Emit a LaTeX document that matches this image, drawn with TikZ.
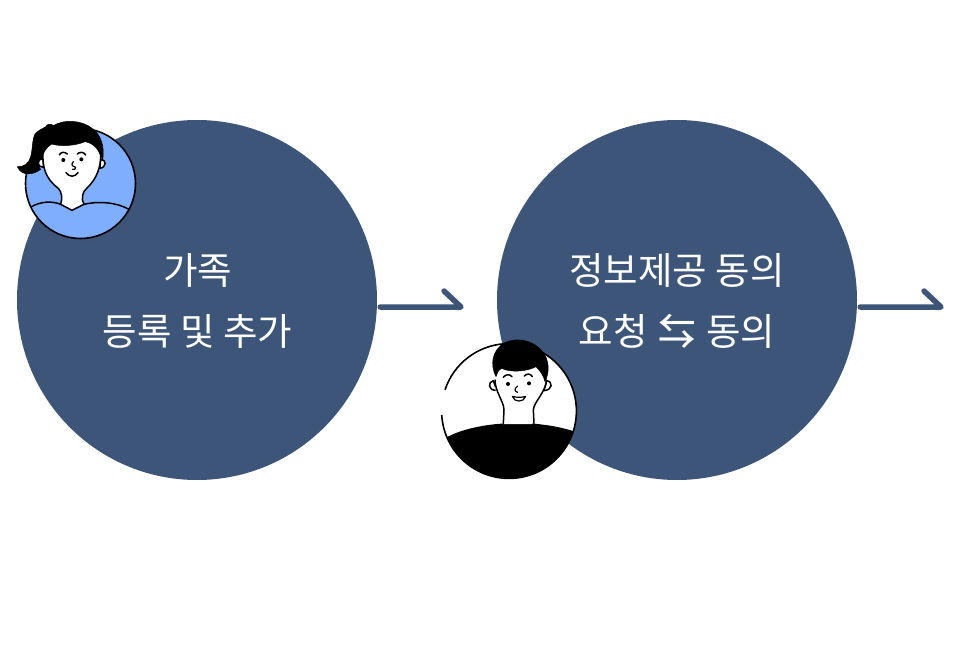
\documentclass[tikz,border=0pt]{standalone}
\usepackage{fontspec}
\setmainfont{Noto Sans CJK KR}
\newfontfamily\arrowfont{Noto Sans CJK KR Medium}
\definecolor{navy}{HTML}{3D5579}
\definecolor{skyb}{HTML}{80AEFF}
\tikzset{
  bigcirc/.style={circle,fill=navy,draw=none,minimum size=360pt,inner sep=0pt},
  label/.style={text=white,align=center,font=\fontsize{37.5}{61}\selectfont,inner sep=0pt},
  flow/.style={draw=navy,line width=5.5pt,line cap=round,line join=round},
  ink/.style={draw=black,line width=1.5pt,line cap=round,line join=round},
  hair/.style={fill=black,draw=black,line width=0.5pt,line join=round},
  skin/.style={fill=white,draw=black,line width=1.5pt,line join=round},
  zoomA/.style={shift={(10,110)},x=0.33333pt,y=-0.33333pt},
  zoomB/.style={shift={(430,330)},x=0.33333pt,y=-0.33333pt}
}
\begin{document}
\begin{tikzpicture}[x=1pt,y=-1pt]
\useasboundingbox (0,0) rectangle (958,650);
\node[bigcirc] (c1) at (197,300) {};
\node[bigcirc] (c2) at (677,300) {};
\node[label] (l1) at (197.5,300.5) {가족\\등록 및 추가};
\node[label] (l2) at (677,300.5) {정보제공 동의\\요청\hspace{2pt} {\arrowfont ⇆}\hspace{2pt} 동의};
\coordinate (t1) at (461,307);
\coordinate (b1) at (444,291);
\coordinate (t2) at (941,307);
\coordinate (b2) at (924,291);
\draw[flow] ([yshift=-7pt,xshift=3pt]c1.east) -- (t1) -- (b1);
\draw[flow] ([yshift=-7pt,xshift=3pt]c2.east) -- (t2) -- (b2);
% woman
\node[circle,fill=skyb,draw=black,line width=1.6pt,minimum size=110pt,inner sep=0pt] (w) at (80.5,183.5) {};
\begin{scope}[zoomA]
  \draw[skin] (90,148) .. controls (80,150) and (82,172) .. (100,172) -- (100,148) -- cycle;
  \draw[skin] (272,148) .. controls (290,148) and (290,172) .. (270,175) -- cycle;
  \draw[skin] (100,115) .. controls (95,170) and (105,205) .. (145,235)
     .. controls (155,245) and (158,265) .. (152,283) -- (186,301) -- (222,283)
     .. controls (212,265) and (218,245) .. (230,235)
     .. controls (262,205) and (272,170) .. (272,135) -- (250,80) -- (110,80) -- cycle;
  \draw[hair] (22,170) .. controls (40,172) and (58,160) .. (62,140)
     .. controls (68,120) and (66,90) .. (75,72)
     .. controls (85,60) and (100,55) .. (108,50)
     .. controls (108,42) and (125,40) .. (130,47)
     .. controls (160,28) and (215,28) .. (250,58)
     .. controls (272,75) and (285,110) .. (278,150)
     .. controls (270,125) and (255,100) .. (225,95)
     .. controls (195,108) and (150,110) .. (125,102)
     .. controls (108,112) and (98,130) .. (96,145)
     .. controls (82,150) and (85,175) .. (92,178)
     .. controls (70,195) and (35,200) .. (22,170) -- cycle;
  \draw[ink] (148,135) .. controls (152,125) and (165,125) .. (172,132);
  \draw[ink] (202,132) .. controls (208,125) and (222,125) .. (227,135);
  \fill (160,150) circle (6);
  \fill (214,148) circle (6);
  \draw[ink,line width=1.2pt] (190,155) .. controls (180,165) and (190,172) .. (197,172) .. controls (198,178) and (192,180) .. (188,178);
  \draw[ink] (168,188) .. controls (178,202) and (195,202) .. (204,188);
  \draw[ink] (65,290) .. controls (90,275) and (125,272) .. (152,283);
  \draw[ink] (222,283) .. controls (270,272) and (320,278) .. (355,297);
\end{scope}
% man
\node[circle,fill=white,draw=none,minimum size=134pt,inner sep=0pt] (m) at (509,411) {};
\begin{scope}
  \clip (509,411) circle (67);
  \begin{scope}[zoomB]
    \fill[black] (30,335) .. controls (100,280) and (300,255) .. (450,310) -- (450,460) -- (30,460) -- cycle;
  \end{scope}
\end{scope}
\draw[black,line width=1.6pt] ([shift={(176.6:67.4)}]m.center) arc (176.6:-161.7:67.4);
\begin{scope}[zoomB]
  \draw[skin] (190,152) .. controls (172,155) and (175,185) .. (200,180) -- cycle;
  \draw[skin] (350,152) .. controls (370,155) and (368,180) .. (342,182) -- cycle;
  \path[fill=white] (195,120) -- (195,175) .. controls (205,205) and (222,225) .. (222,240) -- (220,282) -- (305,282) -- (310,240) .. controls (318,215) and (345,200) .. (350,120) -- cycle;
  \draw[ink] (195,150) .. controls (195,185) and (222,215) .. (222,240) -- (220,280);
  \draw[ink] (350,150) .. controls (345,190) and (312,215) .. (310,240) -- (312,280);
  \draw[hair] (198,140) .. controls (180,105) and (185,60) .. (225,38)
     .. controls (270,18) and (320,35) .. (345,75)
     .. controls (360,105) and (355,135) .. (345,155)
     .. controls (340,135) and (330,122) .. (318,110)
     .. controls (290,125) and (240,128) .. (215,115)
     .. controls (205,120) and (200,130) .. (198,140) -- cycle;
  \draw[ink] (220,142) .. controls (226,132) and (240,132) .. (246,140);
  \draw[ink] (283,138) .. controls (290,130) and (302,130) .. (307,140);
  \fill (234,162) circle (6);
  \fill (297,160) circle (6);
  \draw[ink,line width=1.2pt] (263,168) .. controls (250,178) and (255,185) .. (263,187);
  \draw[ink,fill=white,line width=1.2pt] (247,199) .. controls (258,203) and (275,203) .. (287,199) .. controls (282,218) and (252,218) .. (247,199) -- cycle;
\end{scope}
\end{tikzpicture}
\end{document}
